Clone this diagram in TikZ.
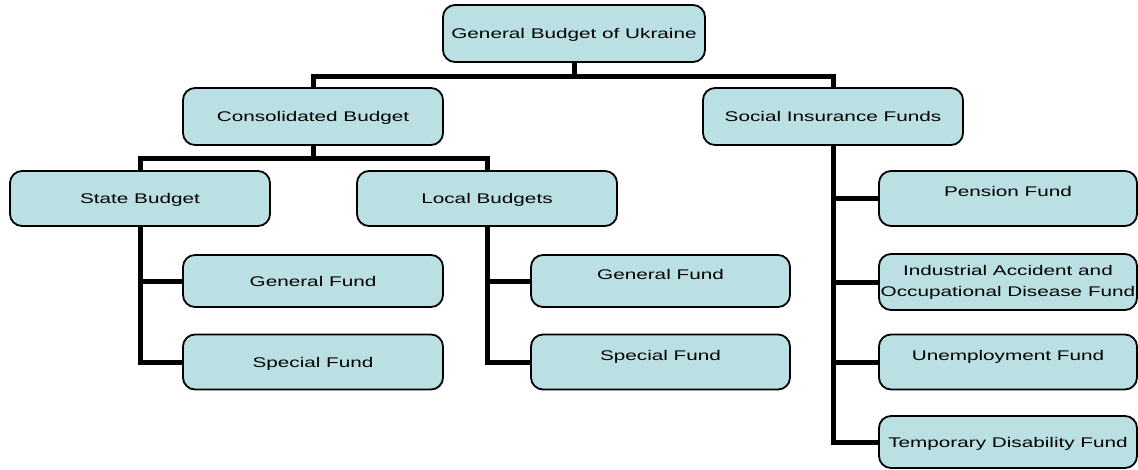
\documentclass[tikz,border=0pt]{standalone}
\usepackage{fontspec}
\setmainfont{Liberation Sans}
\usepackage{graphicx}
\definecolor{boxfill}{RGB}{187,224,227}
\newcommand{\sx}[1]{\scalebox{1.48}[1]{#1}}
\begin{document}
\begin{tikzpicture}[x=1pt,y=-1pt,
  box/.style={draw=black, line width=1.8pt, fill=boxfill, rounded corners=12pt,
    inner sep=0pt, minimum width=260pt, minimum height=55pt,
    font=\fontsize{14}{21}\selectfont, text height=10pt, text depth=0pt},
  lift/.style={text depth=14pt},
  twoline/.style={align=center, text height=, text depth=},
  conn/.style={draw=black, line width=5pt}]
\useasboundingbox (0,0) rectangle (1138,469);
\coordinate (b1) at (574,76);
\coordinate (b2) at (313,158);
% nodes
\node[box, minimum width=262pt, minimum height=57pt] (top) at (574,33.5) {\sx{General Budget of Ukraine}};
\node[box, minimum height=57pt] (cons) at (313,116.5) {\sx{Consolidated Budget}};
\node[box, minimum height=57pt] (soc) at (833,116.5) {\sx{Social Insurance Funds}};
\node[box] (state) at (140,198.5) {\sx{State Budget}};
\node[box] (local) at (487,198.5) {\sx{Local Budgets}};
\node[box, minimum height=52pt] (gfa) at (313,281) {\sx{General Fund}};
\node[box] (sfa) at (313,362) {\sx{Special Fund}};
\node[box, lift, minimum width=259pt, minimum height=52pt] (gfb) at (660.5,281) {\sx{General Fund}};
\node[box, lift, minimum width=259pt] (sfb) at (660.5,362) {\sx{Special Fund}};
\node[box, lift, minimum width=258pt] (pen) at (1008,198.5) {\sx{Pension Fund}};
\node[box, twoline, minimum width=258pt, minimum height=56pt] (ind) at (1008,282) {\sx{Industrial Accident and}\\\sx{Occupational Disease Fund}};
\node[box, lift, minimum width=258pt] (une) at (1008,362) {\sx{Unemployment Fund}};
\node[box, minimum width=258pt, minimum height=52pt] (tmp) at (1008,442) {\sx{Temporary Disability Fund}};
% connectors
\path[conn] (top.south) -- (top.south |- b1);
\path[conn] (cons.north) -- (cons.north |- b1) -- (soc.north |- b1) -- (soc.north);
\path[conn] (cons.south) -- (cons.south |- b2);
\path[conn] (state.north) -- (state.north |- b2) -- (local.north |- b2) -- (local.north);
\path[conn] (state.south) |- (sfa.west);
\path[conn] (gfa.west) -- (gfa.west -| state.south);
\path[conn] (local.south) |- (sfb.west);
\path[conn] (gfb.west) -- (gfb.west -| local.south);
\path[conn] (soc.south) |- (tmp.west);
\path[conn] (pen.west) -- (pen.west -| soc.south);
\path[conn] (ind.west) -- (ind.west -| soc.south);
\path[conn] (une.west) -- (une.west -| soc.south);
\end{tikzpicture}
\end{document}
